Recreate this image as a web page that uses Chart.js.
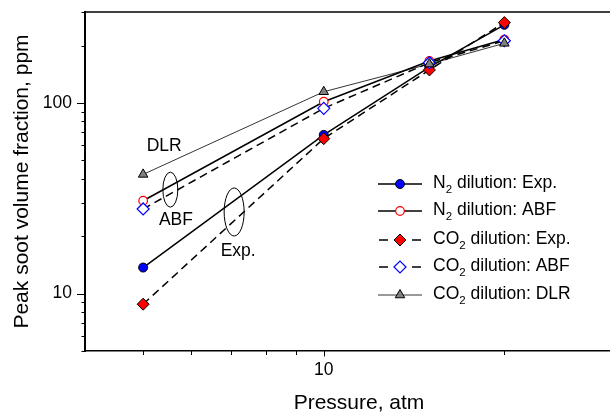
<!DOCTYPE html>
<html>
<head>
<meta charset="utf-8">
<script src="https://cdn.jsdelivr.net/npm/chart.js@4.4.1/dist/chart.umd.min.js"></script>
<style>
  body { margin: 0; background: #fff; }
</style>
</head>
<body>
<canvas id="grafico" width="610" height="413"></canvas>
<script>
// presion (atm)
const presion = [5, 10, 15, 20];

// fraccion de volumen de hollin pico, ppm
const n2Exp  = [13.7, 68, 154, 257];
const n2Abf  = [30.7, 101.5, 166, 215];
const co2Exp = [8.8, 65, 149, 264];
const co2Abf = [27.8, 93.7, 162.6, 212];
const co2Dlr = [42.2, 114.5, 160, 205.5];

// textos de la leyenda: [base, subindice, resto]
const leyenda = [
  ['N', '2', ' dilution: Exp.'],
  ['N', '2', ' dilution: ABF'],
  ['CO', '2', ' dilution: Exp.'],
  ['CO', '2', ' dilution: ABF'],
  ['CO', '2', ' dilution: DLR']
];

// ticks
const xMayores = [10];
const xMenores = [5, 6, 7, 8, 9, 20];
const yMayores = [10, 100];
const yMenores = [5, 6, 7, 8, 9, 20, 30, 40, 50, 60, 70, 80, 90, 200, 300];

// anotaciones (en unidades de datos)
const notas = [
  { texto: 'DLR', x: 5.42, y: 59.1 },
  { texto: 'ABF', x: 5.67, y: 24.3 },
  { texto: 'Exp.', x: 7.2, y: 16.6 }
];
const elipses = [
  { x: 5.55, y: 35.1, rx: 7.5, ry: 17.5 },
  { x: 7.09, y: 26.8, rx: 10, ry: 24 }
];

const fuente = '"Liberation Sans", Arial, sans-serif';

function puntos(serie) {
  return presion.map((p, i) => ({ x: p, y: serie[i] }));
}

const marcas = {
  id: 'marcas',
  afterDraw(chart) {
    const ctx = chart.ctx;
    const ca = chart.chartArea;
    const sx = chart.scales.x;
    const sy = chart.scales.y;
    ctx.save();

    // borde superior
    ctx.strokeStyle = '#000';
    ctx.lineWidth = 1.5;
    ctx.beginPath();
    ctx.moveTo(ca.left, ca.top);
    ctx.lineTo(ca.right, ca.top);
    ctx.stroke();

    // marcas de los ejes
    ctx.lineWidth = 1;
    ctx.beginPath();
    yMayores.concat(yMenores).forEach(v => {
      const y = Math.round(sy.getPixelForValue(v)) + 0.5;
      const largo = yMayores.includes(v) ? 8 : 3.5;
      ctx.moveTo(ca.left, y);
      ctx.lineTo(ca.left - largo, y);
    });
    xMayores.concat(xMenores).forEach(v => {
      const x = Math.round(sx.getPixelForValue(v)) + 0.5;
      const largo = xMayores.includes(v) ? 5.5 : 4;
      ctx.moveTo(x, ca.bottom);
      ctx.lineTo(x, ca.bottom + largo);
    });
    ctx.stroke();

    // titulos de ejes
    ctx.fillStyle = '#000';
    ctx.font = '21px ' + fuente;
    ctx.textAlign = 'center';
    ctx.textBaseline = 'middle';
    ctx.fillText('Pressure, atm', 359, 403.5);
    ctx.save();
    ctx.translate(22.5, (ca.top + ca.bottom) / 2);
    ctx.rotate(-Math.PI / 2);
    ctx.fillText('Peak soot volume fraction, ppm', 0, 0);
    ctx.restore();

    // anotaciones
    ctx.font = '17.5px ' + fuente;
    notas.forEach(n => {
      ctx.fillText(n.texto, sx.getPixelForValue(n.x), sy.getPixelForValue(n.y));
    });
    ctx.lineWidth = 1;
    elipses.forEach(e => {
      ctx.beginPath();
      ctx.ellipse(sx.getPixelForValue(e.x), sy.getPixelForValue(e.y), e.rx, e.ry, 0, 0, Math.PI * 2);
      ctx.stroke();
    });

    // leyenda
    const filas = [184, 211, 240, 267, 295];
    chart.data.datasets.forEach((ds, i) => {
      const y = filas[i];
      ctx.strokeStyle = '#000';
      ctx.lineWidth = ds.borderWidth;
      ctx.beginPath();
      if (ds.borderDash) {
        ctx.moveTo(379, y); ctx.lineTo(388, y);
        ctx.moveTo(412, y); ctx.lineTo(421, y);
      } else {
        ctx.moveTo(378, y); ctx.lineTo(422, y);
      }
      ctx.stroke();
      ctx.fillStyle = ds.pointBackgroundColor;
      ctx.strokeStyle = ds.pointBorderColor;
      ctx.lineWidth = ds.pointBorderWidth;
      Chart.helpers.drawPoint(ctx, {
        pointStyle: ds.pointStyle, radius: ds.pointRadius,
        borderWidth: ds.pointBorderWidth, rotation: 0
      }, 400, y);

      const t = leyenda[i];
      ctx.fillStyle = '#000';
      ctx.textAlign = 'left';
      ctx.font = '17.5px ' + fuente;
      let x = 433;
      ctx.fillText(t[0], x, y - 1);
      x += ctx.measureText(t[0]).width;
      ctx.font = '11.5px ' + fuente;
      ctx.fillText(t[1], x, y + 6);
      x += ctx.measureText(t[1]).width;
      ctx.font = '17.5px ' + fuente;
      ctx.fillText(t[2], x, y - 1);
    });

    ctx.restore();
  }
};

new Chart(document.getElementById('grafico'), {
  type: 'line',
  data: {
    datasets: [
      {
        label: 'N2 dilution: Exp.',
        data: puntos(n2Exp),
        borderColor: '#000', borderWidth: 1.5,
        pointStyle: 'circle', pointRadius: 4.5,
        pointBackgroundColor: '#0000ff', pointBorderColor: '#000', pointBorderWidth: 1,
        order: 5
      },
      {
        label: 'N2 dilution: ABF',
        data: puntos(n2Abf),
        borderColor: '#000', borderWidth: 1.5,
        pointStyle: 'circle', pointRadius: 4.3,
        pointBackgroundColor: '#fff', pointBorderColor: '#ff0000', pointBorderWidth: 1.2,
        order: 4
      },
      {
        label: 'CO2 dilution: Exp.',
        data: puntos(co2Exp),
        borderColor: '#000', borderWidth: 1.5, borderDash: [8, 5],
        pointStyle: 'rectRot', pointRadius: 6,
        pointBackgroundColor: '#ff0000', pointBorderColor: '#000', pointBorderWidth: 1,
        order: 3
      },
      {
        label: 'CO2 dilution: ABF',
        data: puntos(co2Abf),
        borderColor: '#000', borderWidth: 1.5, borderDash: [8, 5],
        pointStyle: 'rectRot', pointRadius: 6,
        pointBackgroundColor: '#fff', pointBorderColor: '#0000ff', pointBorderWidth: 1.2,
        order: 2
      },
      {
        label: 'CO2 dilution: DLR',
        data: puntos(co2Dlr),
        borderColor: '#000', borderWidth: 0.8,
        pointStyle: 'triangle', pointRadius: 5.5,
        pointBackgroundColor: '#808080', pointBorderColor: '#000', pointBorderWidth: 1,
        order: 1
      }
    ]
  },
  options: {
    responsive: false,
    animation: false,
    devicePixelRatio: 1,
    layout: { autoPadding: false, padding: { top: 12, right: 0, left: 0, bottom: 0 } },
    plugins: { legend: { display: false }, tooltip: { enabled: false } },
    scales: {
      x: {
        type: 'logarithmic',
        min: 4,
        max: 30,
        afterBuildTicks: s => { s.ticks = xMayores.map(v => ({ value: v })); },
        afterFit: s => { s.height = 62; s.paddingLeft = 0; s.paddingRight = 0; },
        grid: { display: false, drawTicks: false },
        border: { display: true, color: '#000', width: 1.5 },
        ticks: {
          autoSkip: false, maxRotation: 0, padding: 9, color: '#000',
          font: { family: fuente, size: 17.5 },
          callback: v => String(v)
        }
      },
      y: {
        type: 'logarithmic',
        min: 5,
        max: 300,
        afterBuildTicks: s => { s.ticks = yMayores.map(v => ({ value: v })); },
        afterFit: s => { s.width = 85; s.paddingTop = 0; s.paddingBottom = 0; },
        grid: { display: false, drawTicks: false },
        border: { display: true, color: '#000', width: 2 },
        ticks: {
          autoSkip: false, padding: 13, color: '#000',
          font: { family: fuente, size: 17.5 },
          callback: v => String(v)
        }
      }
    }
  },
  plugins: [marcas]
});
</script>
</body>
</html>
